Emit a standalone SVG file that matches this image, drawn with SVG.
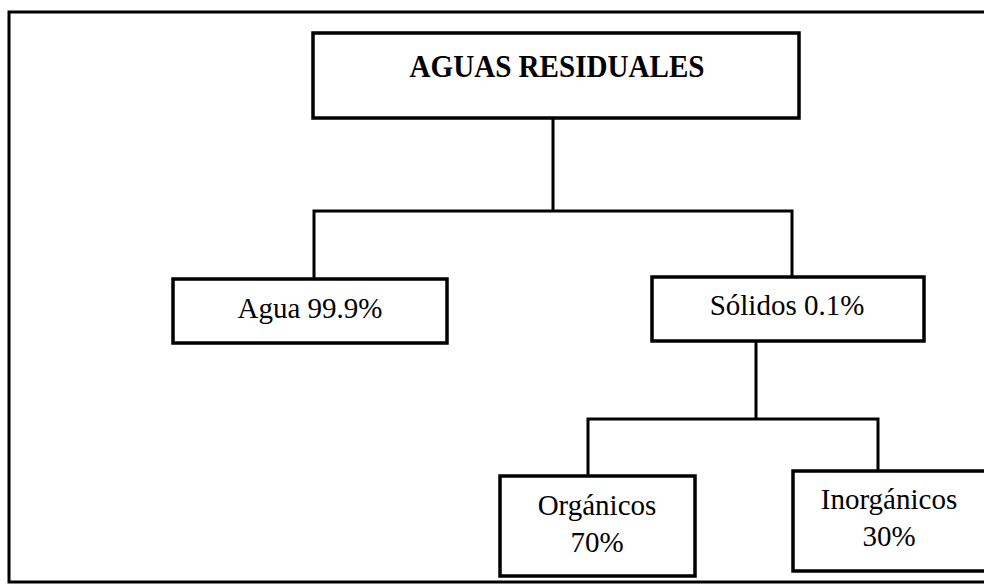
<svg xmlns="http://www.w3.org/2000/svg" width="984" height="586" viewBox="0 0 984 586">
<style>
.box{fill:#fff;stroke:#000;stroke-width:3.5}
.ln{fill:none;stroke:#000;stroke-width:3}
.t{font-family:"Liberation Serif","Times New Roman",serif;font-size:29px;fill:#000;text-anchor:middle}
.b{font-weight:bold;font-size:31px}
</style>
<rect x="0" y="0" width="984" height="586" fill="#fff"/>
<rect x="9" y="12" width="990" height="570" fill="none" stroke="#000" stroke-width="3"/>
<g id="connectors">
<path class="ln" d="M553 118 V211" stroke-width="2.5"/>
<path class="ln" d="M314 279 V211 H792 V277"/>
<path class="ln" d="M756 341 V419"/>
<path class="ln" d="M588 476 V419 H878 V471"/>
</g>
<g id="aguas-residuales">
<rect class="box" x="313" y="33" width="486" height="85"/>
<text class="t b" x="557" y="77" textLength="295" lengthAdjust="spacingAndGlyphs">AGUAS RESIDUALES</text>
</g>
<g id="agua">
<rect class="box" x="173" y="279" width="274" height="64"/>
<text class="t" x="310" y="318">Agua 99.9%</text>
</g>
<g id="solidos">
<rect class="box" x="652" y="277" width="272" height="64"/>
<text class="t" x="787" y="315">Sólidos 0.1%</text>
</g>
<g id="organicos">
<rect class="box" x="500" y="476" width="195" height="100"/>
<text class="t" x="597" y="515">Orgánicos</text>
<text class="t" x="597" y="552">70%</text>
</g>
<g id="inorganicos">
<rect class="box" x="793" y="471" width="200" height="100"/>
<text class="t" x="889" y="509">Inorgánicos</text>
<text class="t" x="889" y="546">30%</text>
</g>
</svg>
